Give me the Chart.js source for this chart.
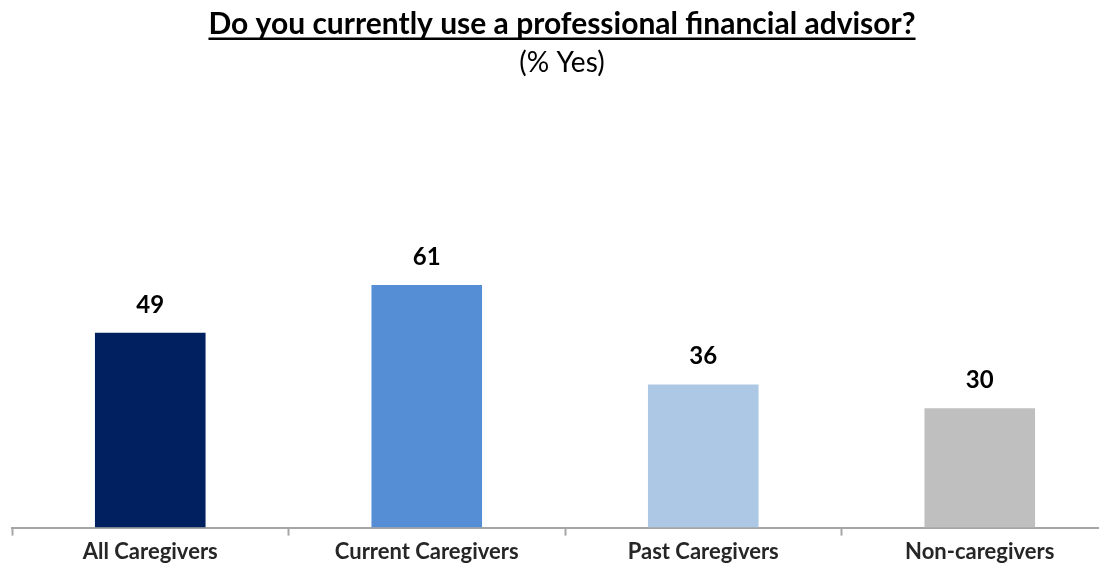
<!DOCTYPE html>
<html>
<head>
<meta charset="utf-8">
<script src="https://cdn.jsdelivr.net/npm/chart.js@4/dist/chart.umd.min.js"></script>
<style>
html,body{margin:0;padding:0;background:#fff;overflow:hidden;}
#wrap{position:absolute;left:0;top:0;width:1124px;height:568px;}
</style>
</head>
<body>
<div id="wrap"><canvas id="c"></canvas></div>
<script>
const categories = ["All Caregivers", "Current Caregivers", "Past Caregivers", "Non-caregivers"];
const values = [49, 61, 36, 30];
const barColors = ["#002060", "#558ED5", "#ADC8E4", "#BFBFBF"];
const titleText = "Do you currently use a professional financial advisor?";
const subtitleText = "(% Yes)";

const FONT = "Lato, 'Open Sans', sans-serif";

const titlePlugin = {
  id: 'uTitle',
  afterDraw(chart) {
    const ctx = chart.ctx;
    const cx = 562;
    ctx.save();
    ctx.fillStyle = '#000';
    ctx.textAlign = 'center';
    ctx.textBaseline = 'alphabetic';
    ctx.font = "bold 30px " + FONT;
    ctx.fillText(titleText, cx, 34);
    const w = ctx.measureText(titleText).width;
    ctx.fillRect(cx - w / 2, 37.5, w, 2.5);
    ctx.font = "28px " + FONT;
    ctx.textBaseline = 'middle';
    ctx.fillText(subtitleText, cx, 63);
    ctx.restore();
  }
};

const labelPlugin = {
  id: 'vLabels',
  afterDatasetsDraw(chart) {
    const ctx = chart.ctx;
    const meta = chart.getDatasetMeta(0);
    ctx.save();
    ctx.fillStyle = '#000';
    ctx.textAlign = 'center';
    ctx.textBaseline = 'middle';
    ctx.font = "bold 24px " + FONT;
    meta.data.forEach((bar, i) => {
      ctx.fillText(String(values[i]), bar.x, bar.y - 28);
    });
    ctx.restore();
  }
};

new Chart(document.getElementById('c'), {
  type: 'bar',
  data: {
    labels: categories,
    datasets: [{
      data: values,
      backgroundColor: barColors,
      borderWidth: 0,
      categoryPercentage: 1.0,
      barPercentage: 0.40
    }]
  },
  options: {
    responsive: true,
    maintainAspectRatio: false,
    animation: false,
    devicePixelRatio: 1,
    layout: { padding: { left: 12, right: 6, top: 130, bottom: 0 } },
    plugins: {
      legend: { display: false },
      title: { display: false },
      tooltip: { enabled: false }
    },
    scales: {
      y: { display: false, min: 0, max: 100 },
      x: {
        offset: true,
        border: { display: true, color: '#A6A6A6', width: 2 },
        grid: {
          offset: true,
          drawOnChartArea: false,
          drawTicks: true,
          tickLength: 8,
          tickColor: '#A6A6A6',
          tickWidth: 2,
          color: '#A6A6A6'
        },
        ticks: {
          color: '#262626',
          font: { family: FONT, size: 22, weight: 'bold' },
          padding: 3,
          maxRotation: 0,
          autoSkip: false
        }
      }
    }
  },
  plugins: [titlePlugin, labelPlugin]
});
</script>
</body>
</html>
